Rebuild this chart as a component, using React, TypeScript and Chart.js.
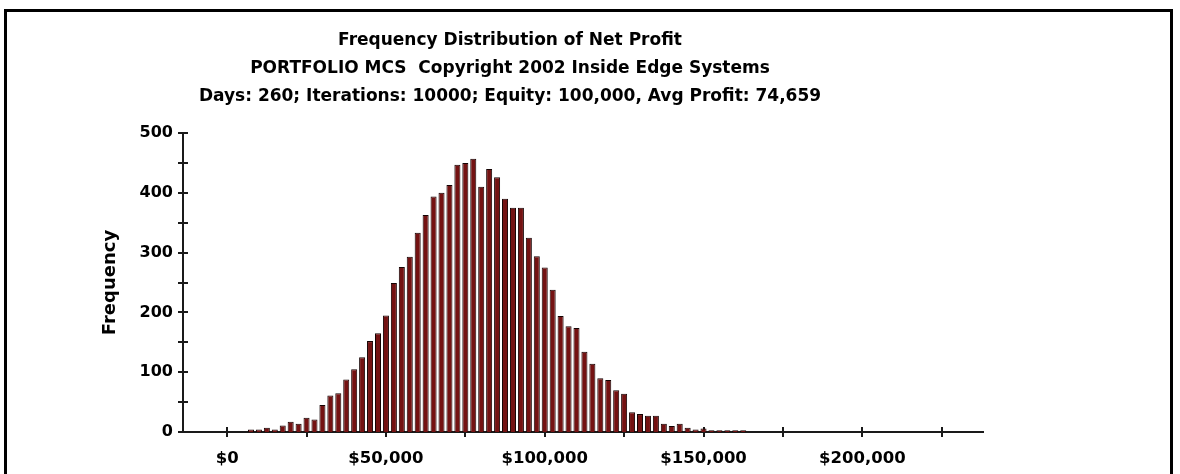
import React, { useEffect, useRef } from 'react';
import { Chart, registerables } from 'chart.js';

Chart.register(...registerables);

const chartTitle = [
  'Frequency Distribution of Net Profit',
  'PORTFOLIO MCS  Copyright 2002 Inside Edge Systems',
  'Days: 260; Iterations: 10000; Equity: 100,000, Avg Profit: 74,659',
];

const yAxisTitle = 'Frequency';

const binCenters = [
  7500, 10000, 12500, 15000, 17500, 20000, 22500, 25000, 27500, 30000,
  32500, 35000, 37500, 40000, 42500, 45000, 47500, 50000, 52500, 55000,
  57500, 60000, 62500, 65000, 67500, 70000, 72500, 75000, 77500, 80000,
  82500, 85000, 87500, 90000, 92500, 95000, 97500, 100000, 102500, 105000,
  107500, 110000, 112500, 115000, 117500, 120000, 122500, 125000, 127500, 130000,
  132500, 135000, 137500, 140000, 142500, 145000, 147500, 150000, 152500, 155000,
  157500, 160000, 162500,
];

const frequencies = [
  4, 4, 7, 4, 11, 17, 14, 24, 21, 45,
  61, 65, 88, 105, 125, 152, 165, 195, 249, 276,
  293, 333, 363, 394, 400, 413, 447, 450, 457, 410,
  440, 426, 390, 375, 375, 325, 294, 275, 238, 194,
  177, 174, 134, 114, 90, 87, 70, 64, 33, 30,
  27, 27, 14, 10, 14, 7, 4, 6, 3, 3,
  3, 3, 3,
];

const yTickValues = [0, 50, 100, 150, 200, 250, 300, 350, 400, 450, 500];
const yLabelValues = [0, 100, 200, 300, 400, 500];
const xTickValues = [0, 25000, 50000, 75000, 100000, 125000, 150000, 175000, 200000, 225000];
const xLabelValues = [0, 50000, 100000, 150000, 200000];

const FONT = 'DejaVu Sans';
const AXIS_COLOR = '#1a1a1a';

const crossTicks = {
  id: 'crossTicks',
  beforeDatasetsDraw(chart: any) {
    const { ctx, chartArea, scales } = chart;
    ctx.save();
    ctx.strokeStyle = AXIS_COLOR;
    ctx.lineWidth = 2;
    ctx.beginPath();
    for (const v of yTickValues) {
      const py = Math.round(scales.y.getPixelForValue(v));
      ctx.moveTo(chartArea.left - 5, py);
      ctx.lineTo(chartArea.left + 5, py);
    }
    for (const v of xTickValues) {
      const px = Math.round(scales.x.getPixelForValue(v));
      ctx.moveTo(px, chartArea.bottom - 5);
      ctx.lineTo(px, chartArea.bottom + 5);
    }
    ctx.stroke();
    ctx.restore();
  },
};

export default function App() {
  const canvasRef = useRef<HTMLCanvasElement | null>(null);

  useEffect(() => {
    document.body.style.overflow = 'hidden';
    const canvas = canvasRef.current;
    if (!canvas) return;
    const chart = new Chart(canvas, {
      type: 'bar',
      data: {
        datasets: [
          {
            label: 'Frequency',
            data: binCenters.map((x, i) => ({ x, y: frequencies[i] })),
            backgroundColor: '#741212',
            borderColor: '#140303',
            borderWidth: 1,
            barPercentage: 0.76,
            categoryPercentage: 1,
          },
        ],
      },
      options: {
        animation: false,
        responsive: false,
        devicePixelRatio: 1,
        layout: { padding: { left: 37, right: 197, top: 0, bottom: 0 } },
        plugins: {
          legend: { display: false },
          tooltip: { enabled: false },
          title: {
            display: true,
            text: chartTitle,
            color: '#000',
            font: { family: FONT, size: 17, weight: 'bold', lineHeight: 28 / 17 },
            padding: { top: 27, bottom: 22 },
          },
        },
        scales: {
          x: {
            type: 'linear',
            offset: false,
            min: -13900,
            max: 238000,
            grid: { display: false, drawTicks: false, offset: false },
            border: { display: true, color: AXIS_COLOR, width: 2 },
            afterBuildTicks: (s: any) => {
              s.ticks = xTickValues.map((v) => ({ value: v }));
            },
            afterFit: (s: any) => {
              s.height = 42;
            },
            ticks: {
              autoSkip: false,
              maxRotation: 0,
              minRotation: 0,
              padding: 17,
              color: '#000',
              font: { family: FONT, size: 16.5, weight: 'bold' },
              callback: (v: any) =>
                xLabelValues.includes(Number(v)) ? '$' + Number(v).toLocaleString('en-US') : '',
            },
          },
          y: {
            type: 'linear',
            min: 0,
            max: 500,
            grid: { display: false, drawTicks: false },
            border: { display: true, color: AXIS_COLOR, width: 2 },
            afterBuildTicks: (s: any) => {
              s.ticks = yTickValues.map((v) => ({ value: v }));
            },
            afterFit: (s: any) => {
              s.width = 146;
            },
            ticks: {
              autoSkip: false,
              padding: 10,
              color: '#000',
              font: { family: FONT, size: 16, weight: 'bold' },
              callback: (v: any) => (yLabelValues.includes(Number(v)) ? String(v) : ''),
            },
            title: {
              display: true,
              text: yAxisTitle,
              color: '#000',
              font: { family: FONT, size: 18, weight: 'bold' },
              padding: { top: 63, bottom: 0 },
            },
          },
        },
      },
      plugins: [crossTicks],
    } as any);
    return () => chart.destroy();
  }, []);

  return (
    <div style={{ position: 'absolute', left: 0, top: 0, width: 1180, height: 474, background: '#fff', overflow: 'hidden' }}>
      <div
        style={{
          position: 'absolute',
          left: 4,
          top: 9,
          width: 1169,
          height: 465,
          boxSizing: 'border-box',
          borderTop: '3px solid #000',
          borderLeft: '3px solid #000',
          borderRight: '3px solid #000',
        }}
      />
      <canvas
        ref={canvasRef}
        width={1180}
        height={474}
        style={{ position: 'absolute', left: 0, top: 0, width: 1180, height: 474 }}
      />
    </div>
  );
}
